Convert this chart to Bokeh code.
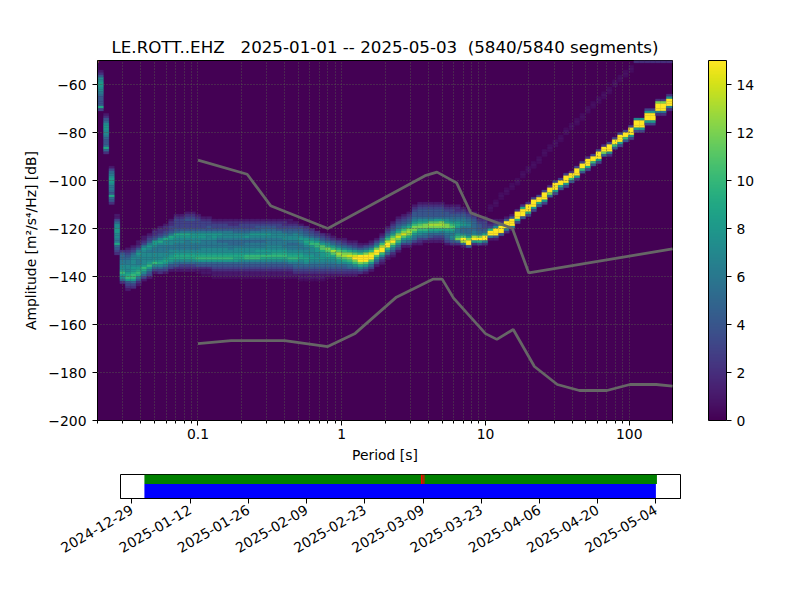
import math
import pandas as pd
from bokeh.embed import file_html
from bokeh.layouts import column, row
from bokeh.models import ColorBar, ColumnDataSource, FixedTicker, Label, LinearColorMapper, Range1d
from bokeh.palettes import Viridis256
from bokeh.plotting import figure
from bokeh.resources import INLINE

title_text = "LE.ROTT..EHZ \u00a0\u00a02025-01-01 -- 2025-05-03 \u00a0(5840/5840 segments)"
x_tick_values = [0.1, 1, 10, 100]
x_tick_labels = ["0.1", "1", "10", "100"]
x_minor_values = [0.02, 0.03, 0.04, 0.05, 0.06, 0.07, 0.08, 0.09, 0.2, 0.3, 0.4, 0.5, 0.6, 0.7, 0.8, 0.9,
                  2, 3, 4, 5, 6, 7, 8, 9, 20, 30, 40, 50, 60, 70, 80, 90, 200]
y_tick_values = [-60, -80, -100, -120, -140, -160, -180, -200]
y_tick_labels = ["\u221260", "\u221280", "\u2212100", "\u2212120", "\u2212140", "\u2212160", "\u2212180", "\u2212200"]
cbar_ticks = [0, 2, 4, 6, 8, 10, 12, 14]

nhnm_period = [0.1, 0.22, 0.32, 0.8, 3.8, 4.6, 6.3, 7.9, 15.4, 20, 200]
nhnm_db = [-91.5, -97.4, -110.5, -120, -98, -96.5, -101, -113.5, -120, -138.5, -128.5]
nlnm_period = [0.1, 0.17, 0.4, 0.8, 1.24, 2.4, 4.3, 5, 6, 10, 12, 15.6, 21.9, 31.6, 45, 70, 101, 154, 200]
nlnm_db = [-168, -166.7, -166.7, -169.2, -163.7, -148.6, -141.1, -141.1, -149, -163.8, -166.2, -162.1,
           -177.5, -185, -187.5, -187.5, -185, -185, -185.7]

column_edges = [0.0200, 0.0202, 0.0220, 0.0240, 0.0262, 0.0286, 0.0312, 0.0340, 0.0371, 0.0404, 0.0441, 0.0481,
                0.0524, 0.0572, 0.0624, 0.0680, 0.0742, 0.0809, 0.0882, 0.0962, 0.1049, 0.1144, 0.1248, 0.1361,
                0.1484, 0.1618, 0.1765, 0.1925, 0.2099, 0.2289, 0.2496, 0.2722, 0.2969, 0.3238, 0.3531, 0.3851,
                0.4199, 0.4579, 0.4994, 0.5446, 0.5939, 0.6477, 0.7063, 0.7702, 0.8399, 0.9160, 0.9989, 1.089,
                1.188, 1.295, 1.413, 1.541, 1.680, 1.832, 1.998, 2.179, 2.376, 2.591, 2.826, 3.082, 3.361, 3.665,
                3.997, 4.358, 4.753, 5.183, 5.653, 6.164, 6.722, 7.331, 7.995, 8.718, 9.507, 10.37, 11.31, 12.33,
                13.45, 14.66, 15.99, 17.44, 19.02, 20.74, 22.62, 24.66, 26.90, 29.33, 31.99, 34.88, 38.04, 41.48,
                45.24, 49.33, 53.80, 58.67, 63.98, 69.77, 76.09, 82.97, 90.49, 98.68, 107.6, 117.4, 128.0, 139.6,
                152.2, 166.0, 181.0, 200.0]

column_top_db = [-50, -54, -72, -94, -114, -129, -128, -127, -125, -123, -122, -120, -119, -118, -116,
                 -114, -114, -113, -113, -114, -115, -115, -116,
                 -116, -116, -116, -116, -116, -116, -116, -116, -116, -116, -116, -116, -116, -116,
                 -117, -118, -119, -120, -121, -122, -122, -123, -124, -124, -125, -125, -126, -126, -125, -124,
                 -122, -119, -117, -115, -114, -113, -110, -109, -109, -109, -109, -109, -110, -110, -110, -111,
                 -112, -113, -115, -115, -116, -116, -116, -115, -114, -112, -110, -109, -107, -106, -104, -102,
                 -100, -99, -97, -96, -94, -92, -90, -89, -87, -85, -84, -82, -80, -79, -77, -74, -74, -70, -70,
                 -66, -66, -64]

column_percent = [
    [15, 2, 2, 2, 1, 1],
    [1, 2, 4, 7, 7, 8, 8, 7, 7, 6, 5, 4, 4, 4, 4, 9, 3],
    [1, 2, 4, 5, 7, 8, 8, 7, 7, 6, 5, 4, 4, 5, 9, 5, 2],
    [1, 3, 5, 6, 7, 8, 8, 7, 6, 6, 5, 4, 9, 5, 4, 2],
    [1, 1, 3, 5, 7, 7, 8, 8, 7, 7, 6, 6, 9, 5, 4, 3, 2],
    [2, 4, 5, 5, 6, 6, 7, 7, 8, 10, 8, 7, 5, 2],
    [1, 2, 3, 4, 5, 6, 6, 7, 7, 7, 8, 9, 10, 8, 4, 3, 2, 1],
    [1, 2, 3, 5, 6, 7, 7, 7, 7, 8, 8, 9, 10, 10, 8, 5, 3, 2],
    [1, 1, 2, 4, 6, 8, 7, 7, 6, 6, 7, 8, 9, 10, 9, 6, 4, 2, 1],
    [1, 1, 2, 3, 6, 8, 7, 7, 7, 7, 7, 7, 8, 10, 9, 7, 5, 3, 1],
    [1, 2, 3, 4, 6, 8, 7, 6, 7, 7, 7, 7, 8, 10, 8, 6, 4, 3, 1],
    [1, 2, 2, 3, 4, 8, 8, 7, 6, 6, 7, 7, 7, 8, 10, 7, 5, 3, 1],
    [1, 2, 2, 3, 4, 7, 9, 7, 6, 6, 6, 7, 7, 7, 8, 9, 7, 5, 3, 2],
    [1, 2, 2, 3, 4, 6, 9, 7, 7, 6, 6, 6, 7, 7, 8, 9, 8, 6, 4, 3, 1],
    [1, 2, 2, 3, 3, 4, 6, 9, 8, 7, 7, 6, 6, 7, 7, 8, 9, 8, 6, 4, 3, 1],
    [1, 2, 3, 3, 3, 3, 4, 5, 9, 8, 7, 7, 6, 6, 6, 7, 8, 9, 9, 7, 5, 4, 2, 1],
    [1, 2, 3, 3, 3, 3, 4, 6, 9, 8, 7, 7, 6, 6, 6, 7, 8, 9, 9, 7, 5, 3, 2, 1],
    [1, 2, 3, 4, 3, 3, 3, 4, 6, 9, 8, 7, 6, 6, 6, 6, 7, 8, 9, 9, 7, 5, 3, 2, 1],
    [1, 2, 3, 4, 3, 3, 3, 4, 6, 8, 8, 7, 7, 6, 6, 6, 7, 8, 9, 9, 7, 5, 3, 2, 1],
    [1, 2, 3, 3, 3, 3, 4, 6, 8, 8, 7, 7, 6, 6, 6, 7, 8, 9, 10, 8, 5, 4, 2, 1, 0.5],
    [1, 2, 3, 3, 3, 4, 6, 8, 8, 7, 6, 6, 6, 7, 7, 8, 9, 10, 8, 5, 4, 2, 1, 1, 0.5],
    [1, 2, 3, 3, 4, 4, 6, 8, 7, 7, 6, 6, 6, 7, 7, 8, 9, 10, 8, 5, 4, 2, 1, 1, 0.5],
    [1, 2, 3, 3, 4, 6, 8, 8, 7, 6, 6, 6, 7, 7, 8, 9, 10, 8, 5, 4, 3, 2, 1, 1, 0.5],
    [1, 2, 3, 3, 4, 6, 8, 7, 6, 5, 6, 6, 7, 7, 8, 9, 10, 8, 5, 4, 3, 2, 1, 1, 0.5],
    [1, 2, 3, 3, 4, 6, 7, 7, 6, 5, 6, 6, 7, 7, 8, 9, 10, 8, 5, 4, 3, 2, 1, 1, 0.5],
    [1, 2, 2, 3, 4, 6, 7, 7, 6, 5, 5, 6, 6, 7, 8, 9, 10, 8, 5, 4, 3, 2, 1, 1, 0.5],
    [1, 2, 2, 3, 4, 5, 7, 7, 6, 5, 5, 6, 7, 7, 8, 9, 9, 8, 5, 4, 3, 2, 1, 1, 0.5],
    [1, 2, 3, 3, 4, 5, 7, 7, 6, 5, 5, 6, 7, 7, 8, 9, 9, 7, 5, 4, 3, 2, 1, 1, 0.5],
    [1, 2, 3, 3, 4, 5, 7, 8, 6, 5, 6, 6, 7, 7, 8, 10, 10, 7, 5, 4, 3, 2, 1, 1, 0.5],
    [1, 2, 3, 3, 4, 6, 8, 7, 6, 5, 6, 6, 7, 7, 8, 10, 10, 7, 5, 4, 3, 2, 1, 1, 0.5],
    [1, 2, 3, 4, 4, 6, 8, 7, 6, 5, 6, 6, 7, 8, 8, 10, 10, 7, 5, 4, 3, 2, 1, 1, 0.5],
    [1, 2, 3, 4, 5, 6, 8, 7, 6, 5, 6, 6, 7, 8, 8, 10, 9, 7, 5, 4, 3, 2, 1, 1, 0.5],
    [1, 2, 3, 4, 5, 6, 8, 7, 6, 6, 6, 7, 7, 8, 8, 10, 9, 7, 5, 4, 3, 2, 1, 1, 0.5],
    [1, 2, 3, 4, 5, 6, 7, 7, 6, 6, 6, 7, 7, 8, 9, 10, 9, 7, 5, 4, 3, 2, 1, 1, 0.5],
    [1, 2, 3, 3, 4, 6, 7, 7, 6, 6, 6, 7, 7, 8, 9, 10, 9, 7, 5, 4, 3, 2, 1, 1, 0.5],
    [1, 2, 2, 3, 4, 5, 7, 7, 7, 6, 6, 6, 7, 8, 9, 10, 9, 7, 5, 4, 3, 2, 1, 1, 0.5],
    [1, 1, 2, 3, 4, 5, 6, 7, 7, 6, 5, 6, 6, 7, 8, 9, 10, 8, 6, 4, 3, 2, 1, 1, 0.5],
    [1, 2, 3, 4, 5, 7, 7, 7, 6, 5, 6, 6, 7, 8, 9, 10, 8, 6, 5, 4, 3, 2, 1, 0.5],
    [1, 3, 4, 5, 6, 7, 8, 7, 6, 6, 6, 7, 8, 9, 9, 7, 6, 5, 4, 3, 2, 1, 1, 0.5],
    [2, 3, 4, 5, 6, 8, 9, 8, 7, 6, 7, 7, 8, 9, 8, 7, 5, 4, 3, 2, 1, 1, 0.5],
    [2, 3, 4, 5, 7, 9, 10, 8, 7, 7, 7, 8, 8, 7, 6, 5, 4, 3, 2, 1, 1, 0.5],
    [2, 3, 4, 6, 8, 10, 10, 8, 8, 7, 7, 8, 7, 6, 5, 4, 3, 2, 1, 1, 0.5],
    [2, 3, 4, 6, 8, 11, 11, 9, 8, 8, 8, 7, 6, 5, 4, 3, 2, 1, 1, 0.5],
    [1, 2, 3, 5, 7, 9, 12, 11, 9, 9, 8, 7, 6, 5, 4, 3, 2, 1, 0.5],
    [1, 2, 4, 5, 8, 10, 13, 11, 9, 8, 7, 6, 5, 4, 3, 2, 1, 0.5],
    [1, 3, 4, 6, 9, 11, 13, 12, 10, 8, 7, 5, 4, 3, 2, 1],
    [1, 2, 3, 5, 7, 10, 12, 13, 11, 9, 7, 5, 4, 3, 2, 1],
    [1, 2, 4, 6, 9, 12, 14, 12, 10, 8, 6, 5, 3, 2, 1],
    [1, 2, 3, 5, 8, 11, 14, 15, 12, 10, 7, 5, 3, 2, 1],
    [1, 2, 4, 7, 10, 15, 15, 15, 12, 9, 6, 4, 2],
    [1, 3, 5, 8, 12, 15, 15, 15, 11, 8, 5, 3, 1],
    [1, 2, 4, 7, 10, 14, 15, 15, 11, 8, 5, 3, 1],
    [1, 3, 5, 8, 12, 15, 15, 11, 8, 5, 3, 1],
    [1, 2, 4, 6, 10, 13, 15, 15, 10, 7, 4, 2, 1],
    [1, 2, 3, 5, 7, 10, 13, 15, 15, 10, 7, 5, 2, 1],
    [1, 2, 3, 4, 6, 8, 11, 13, 15, 12, 9, 6, 4, 2, 1],
    [1, 2, 3, 4, 5, 7, 9, 12, 14, 12, 10, 7, 5, 3, 1],
    [1, 2, 3, 4, 5, 7, 10, 12, 14, 11, 8, 6, 3, 1],
    [1, 2, 3, 4, 5, 7, 9, 12, 13, 12, 9, 7, 5, 3, 1],
    [1, 2, 3, 4, 4, 5, 6, 8, 10, 12, 12, 10, 8, 6, 5, 3, 1],
    [1, 2, 3, 4, 4, 4, 5, 7, 9, 11, 12, 10, 8, 7, 5, 3, 2, 1],
    [1, 2, 3, 4, 4, 4, 5, 7, 9, 12, 12, 10, 8, 6, 5, 3, 1],
    [1, 2, 3, 4, 4, 4, 5, 7, 11, 13, 12, 9, 7, 5, 4, 2, 1],
    [1, 2, 3, 4, 4, 4, 5, 8, 11, 13, 12, 9, 7, 5, 3, 2, 1],
    [1, 2, 3, 4, 4, 4, 5, 8, 12, 13, 12, 9, 6, 5, 3, 2, 1],
    [1, 2, 3, 4, 4, 5, 7, 9, 12, 12, 9, 7, 6, 5, 4, 3, 1],
    [1, 2, 3, 3, 4, 5, 6, 8, 10, 11, 9, 7, 6, 7, 6, 4, 2],
    [1, 2, 2, 3, 4, 5, 6, 8, 9, 8, 6, 6, 8, 10, 12, 5, 2],
    [1, 2, 3, 4, 5, 6, 7, 8, 6, 5, 5, 7, 11, 15, 13, 5, 1],
    [1, 2, 3, 4, 5, 6, 7, 6, 5, 5, 6, 8, 12, 15, 15, 4],
    [1, 2, 3, 4, 5, 5, 5, 5, 6, 7, 13, 15, 8, 2],
    [1, 2, 3, 4, 4, 4, 5, 6, 12, 15, 9, 3],
    [1, 2, 3, 3, 3, 4, 5, 9, 15, 15, 6, 2],
    [1, 1, 2, 3, 9, 15, 15, 6, 1],
    [1, 2, 3, 7, 15, 15, 15, 4, 1],
    [1, 2, 8, 15, 15, 15, 4],
    [1, 4, 15, 15, 15, 6, 2],
    [1, 4, 15, 15, 15, 7, 1],
    [2, 15, 15, 15, 9, 3],
    [2, 9, 15, 15, 15, 4],
    [2, 15, 15, 15, 9, 3],
    [3, 15, 15, 15, 8, 3],
    [3, 15, 15, 9, 4],
    [3, 15, 15, 15, 8, 3],
    [2, 15, 15, 12, 5],
    [3, 15, 15, 15, 8, 3],
    [3, 15, 15, 9, 4],
    [3, 15, 15, 15, 8, 3],
    [2, 15, 15, 10, 4],
    [3, 15, 15, 15, 8, 2],
    [3, 15, 15, 10, 4],
    [2, 15, 15, 15, 9, 3],
    [3, 15, 15, 10, 4],
    [3, 15, 15, 15, 8, 3],
    [2, 15, 15, 12, 5],
    [3, 15, 15, 15, 7, 2],
    [3, 15, 15, 10, 4],
    [3, 15, 15, 15, 8, 3],
    [3, 15, 15, 10, 4],
    [3, 15, 15, 15, 8, 3],
    [7, 15, 15, 15, 8, 3],
    [8, 15, 15, 15, 8, 3],
    [3, 8, 15, 15, 15, 8, 3],
    [3, 8, 15, 15, 15, 8, 3],
    [2, 12, 15, 15, 15, 6, 2],
    [2, 12, 15, 15, 15, 6, 2],
    [2, 7, 15, 15, 15, 6, 2],
]

faint_column = [73, 74, 75, 76, 77, 78, 79, 80, 81, 82, 83, 84, 85, 86, 87, 88, 89, 90, 91, 92, 93, 94, 95, 96,
                97, 98, 99, 100, 101, 102, 103, 104, 105, 106]
faint_top_db = [-110, -108, -105, -103, -101, -99, -96, -94, -92, -90, -87, -85, -83, -81, -78, -76, -74, -72, -69,
                -67, -65, -63, -61, -58, -56, -54, -52, -50, -50, -50, -50, -50, -50, -50]
faint_percent = [[0.5, 0.7, 0.5]] * 27 + [[2]] * 7

timeline_green = [("2025-01-01", "2025-05-04 06:00")]
timeline_blue = [("2025-01-01", "2025-05-04")]
timeline_red = [("2025-03-08 12:00", "2025-03-08 22:00"), ("2025-03-09 02:00", "2025-03-09 08:00")]
date_ticks = ["2024-12-29", "2025-01-12", "2025-01-26", "2025-02-09", "2025-02-23",
              "2025-03-09", "2025-03-23", "2025-04-06", "2025-04-20", "2025-05-04"]
timeline_view = ("2024-12-26 06:00", "2025-05-09 22:00")

FONT = "DejaVu Sans"
VIRIDIS_BG = "#440154"

mapper = LinearColorMapper(palette=Viridis256, low=0, high=15)

lefts, rights, tops, bottoms, vals = [], [], [], [], []
def add_cells(col, top, percents):
    for k, v in enumerate(percents):
        lefts.append(column_edges[col])
        rights.append(column_edges[col + 1])
        tops.append(top - k)
        bottoms.append(top - k - 1)
        vals.append(v)

for c, (top, cells_row) in enumerate(zip(column_top_db, column_percent)):
    add_cells(c, top, cells_row)
for c, top, cells_row in zip(faint_column, faint_top_db, faint_percent):
    add_cells(c, top, cells_row)

p = figure(width=800, height=466, x_axis_type="log", x_range=Range1d(0.02, 200), y_range=Range1d(-200, -50),
           output_backend="svg", toolbar_location=None, min_border_left=97, min_border_right=128,
           min_border_top=60, min_border_bottom=46, title=title_text, background_fill_color=VIRIDIS_BG,
           outline_line_color="black", outline_line_width=1)
p.title.align = "center"
p.title.text_font = FONT
p.title.text_font_size = "16.7px"
p.title.text_font_style = "normal"
p.title.text_color = "black"
p.title.standoff = 7

cells = ColumnDataSource(dict(left=lefts, right=rights, top=tops, bottom=bottoms, v=vals))
p.quad(left="left", right="right", top="top", bottom="bottom", source=cells,
       fill_color={"field": "v", "transform": mapper}, line_color={"field": "v", "transform": mapper},
       line_width=0.3)

for xs, ys in ((nhnm_period, nhnm_db), (nlnm_period, nlnm_db)):
    r = p.line(xs, ys, line_color="#666666", line_width=2.78)
    r.level = "overlay"

p.xaxis.ticker = FixedTicker(ticks=x_tick_values, minor_ticks=x_minor_values)
p.xaxis.major_label_overrides = dict(zip(x_tick_values, x_tick_labels))
p.yaxis.ticker = FixedTicker(ticks=y_tick_values)
p.yaxis.major_label_overrides = dict(zip(y_tick_values, y_tick_labels))
for ax in (p.xaxis[0], p.yaxis[0]):
    ax.major_label_text_font = FONT
    ax.major_label_text_font_size = "13.9px"
    ax.major_label_text_color = "black"
    ax.axis_label_text_font = FONT
    ax.axis_label_text_font_size = "13.9px"
    ax.axis_label_text_font_style = "normal"
    ax.axis_label_text_color = "black"
    ax.major_tick_in = 0
    ax.major_tick_out = 5
    ax.minor_tick_in = 0
    ax.minor_tick_out = 0
    ax.major_tick_line_color = "black"
    ax.axis_line_color = "black"
p.xaxis[0].minor_tick_out = 3
p.xaxis[0].minor_tick_line_color = "black"
p.xaxis.axis_label = "Period [s]"
p.yaxis.axis_label = "Amplitude [m\u00b2/s\u2074/Hz] [dB]"
p.xaxis[0].major_label_standoff = 3
p.yaxis[0].major_label_standoff = 6
p.xaxis[0].axis_label_standoff = 5
p.yaxis[0].axis_label_standoff = 6

GRID = "#56634f"
p.xgrid.grid_line_color = GRID
p.xgrid.grid_line_dash = [1, 2]
p.xgrid.grid_line_width = 0.8
p.xgrid.minor_grid_line_color = GRID
p.xgrid.minor_grid_line_dash = [1, 2]
p.xgrid.minor_grid_line_width = 0.8
p.ygrid.grid_line_color = GRID
p.ygrid.grid_line_dash = [1, 2]
p.ygrid.grid_line_width = 0.8
p.xgrid.level = "annotation"
p.ygrid.level = "annotation"

cb = ColorBar(color_mapper=mapper, location=(611, 0), width=18, height=360, padding=0, margin=0,
              ticker=FixedTicker(ticks=cbar_ticks), major_tick_in=0, major_tick_out=5,
              major_tick_line_color="black", bar_line_color="black", border_line_color=None,
              background_fill_alpha=0, major_label_text_font=FONT, major_label_text_font_size="13.9px",
              major_label_text_color="black", label_standoff=5, minor_tick_line_color=None)
p.add_layout(cb)
p.add_layout(Label(x=668, y=180, x_units="screen", y_units="screen", text="[%]", angle=90, angle_units="deg",
                   text_font=FONT, text_font_size="13.9px", text_color="black", text_align="center",
                   text_baseline="middle"))

view = [pd.Timestamp(s) for s in timeline_view]
t = figure(width=800, height=102, x_axis_type="datetime", x_range=Range1d(view[0], view[1]), y_range=Range1d(0, 1),
           output_backend="svg", toolbar_location=None, min_border_left=120, min_border_right=120,
           min_border_top=8, min_border_bottom=70, outline_line_color="black", outline_line_width=1)
for spans, y0, y1, color in ((timeline_blue, 0, 0.6, "#0000ff"), (timeline_green, 0.6, 1, "#008000"),
                             (timeline_red, 0.6, 1, "#ff0000")):
    t.quad(left=[pd.Timestamp(a) for a, _ in spans], right=[pd.Timestamp(b) for _, b in spans],
           bottom=[y0] * len(spans), top=[y1] * len(spans), fill_color=color, line_color=None)
t.yaxis.visible = False
t.grid.visible = False
tick_ms = [pd.Timestamp(d).timestamp() * 1000 for d in date_ticks]
ax = t.xaxis[0]
ax.ticker = FixedTicker(ticks=tick_ms)
ax.major_label_overrides = dict(zip(tick_ms, date_ticks))
ax.major_label_orientation = math.radians(30)
ax.major_label_text_font = FONT
ax.major_label_text_font_size = "13.9px"
ax.major_label_text_color = "black"
ax.major_tick_in = 0
ax.major_tick_out = 5
ax.major_tick_line_color = "black"
ax.minor_tick_in = 0
ax.minor_tick_out = 0
ax.axis_line_color = "black"

open("out.html", "w").write(file_html(column(p, row(t), spacing=0), INLINE))
